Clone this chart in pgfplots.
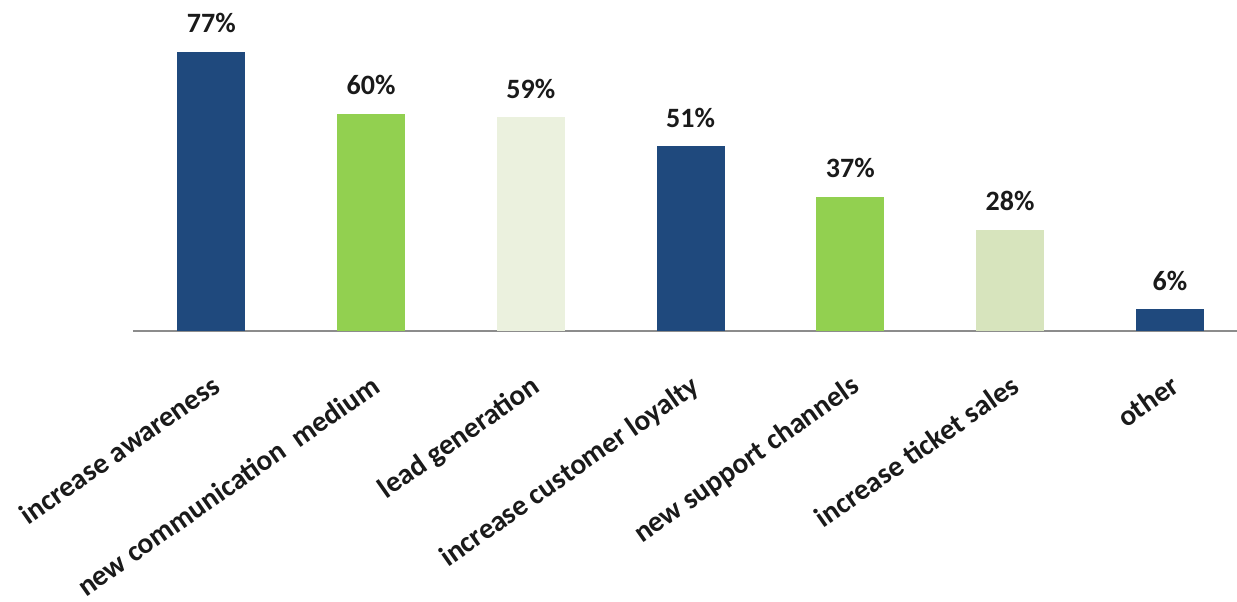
\documentclass[border=0pt]{standalone}
\usepackage{pgfplots}
\pgfplotsset{compat=1.18}
\usepackage{fontspec}
\setmainfont{Carlito}
\definecolor{cblue}{HTML}{1F497D}
\definecolor{cgreen}{HTML}{92D050}
\definecolor{clight}{HTML}{EBF1DE}
\definecolor{cpale}{HTML}{D7E4BD}
\definecolor{caxis}{HTML}{8C8C8C}
\definecolor{ctext}{HTML}{1A1A1A}
\begin{document}
\begin{tikzpicture}
\begin{axis}[
  at={(0,0)}, anchor=south west,
  scale only axis,
  width=552pt, height=145pt,
  xmin=-0.49, xmax=6.42,
  ymin=0, ymax=80,
  axis y line=none,
  axis x line*=bottom,
  x axis line style={draw=caxis, line width=1pt, -},
  xtick={0,1,2,3,4,5,6},
  xticklabels={increase awareness,new communication\ \ medium,lead generation,increase customer loyalty,new support channels,increase ticket sales,other},
  major tick length=0pt,
  xticklabel style={yshift=-21pt, xshift=-0.5pt, rotate=35, anchor=north east, inner sep=0pt, font=\fontsize{14.6}{16}\selectfont\bfseries, text=ctext},
  ybar, bar width=34pt,
  clip=false,
  /pgf/number format/assume math mode=true,
  nodes near coords={\pgfmathprintnumber{\pgfplotspointmeta}\%},
  every node near coord/.append style={anchor=base, inner sep=0pt, yshift=9.5pt, font=\fontsize{14}{16}\selectfont\bfseries, text=ctext},
]
\addplot[fill=cblue, draw=none, bar shift=0pt] coordinates {(0,77)};
\addplot[fill=cgreen, draw=none, bar shift=0pt] coordinates {(1,60)};
\addplot[fill=clight, draw=none, bar shift=0pt] coordinates {(2,59)};
\addplot[fill=cblue, draw=none, bar shift=0pt] coordinates {(3,51)};
\addplot[fill=cgreen, draw=none, bar shift=0pt] coordinates {(4,37)};
\addplot[fill=cpale, draw=none, bar shift=0pt] coordinates {(5,28)};
\addplot[fill=cblue, draw=none, bar shift=0pt] coordinates {(6,6)};
\end{axis}
\pgfresetboundingbox
\path[use as bounding box] (-66.5pt,-135pt) rectangle (552pt,165.5pt);
\end{tikzpicture}
\end{document}
